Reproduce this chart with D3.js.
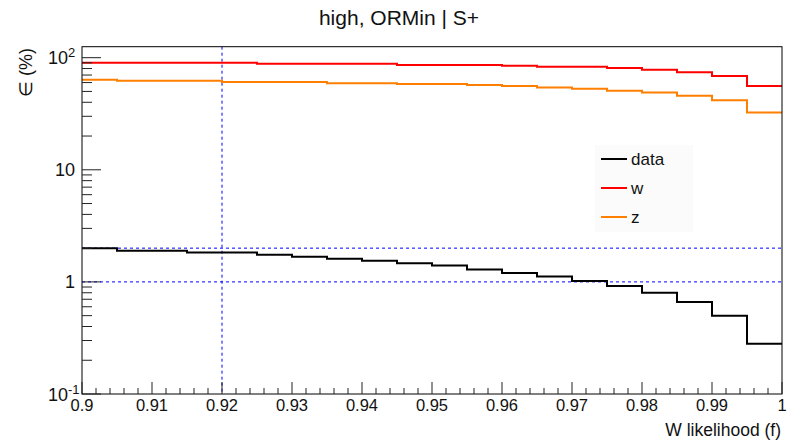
<!DOCTYPE html>
<html>
<head>
<meta charset="utf-8">
<script src="https://cdn.jsdelivr.net/npm/d3@7"></script>
<style>
  html, body { margin: 0; padding: 0; background: #fff; }
  svg { display: block; font-family: "Liberation Sans", Arial, sans-serif; }
</style>
</head>
<body>
<svg id="chart" width="790" height="443"></svg>
<script>
// ---- data ----
const binEdges = [0.900, 0.905, 0.910, 0.915, 0.920, 0.925, 0.930, 0.935, 0.940, 0.945, 0.950,
                  0.955, 0.960, 0.965, 0.970, 0.975, 0.980, 0.985, 0.990, 0.995, 1.000];
const dataVals = [2.00, 1.90, 1.90, 1.83, 1.83, 1.75, 1.68, 1.61, 1.54, 1.47,
                  1.40, 1.29, 1.20, 1.115, 1.02, 0.92, 0.80, 0.663, 0.50, 0.281];
const wVals    = [90.2, 90.2, 90.2, 90.2, 90.2, 88.2, 88.2, 88.2, 88.2, 86.1,
                  86.1, 86.1, 84.8, 83.1, 83.1, 80.9, 78.2, 74.1, 68.7, 55.9];
const zVals    = [63.6, 62.4, 62.4, 62.4, 60.7, 60.7, 60.7, 59.1, 59.1, 58.3,
                  58.3, 57.1, 56.0, 54.3, 52.9, 50.8, 48.8, 45.8, 41.7, 32.4];
const seriesNames  = ["data", "w", "z"];
const seriesColors = ["#000000", "#ff0000", "#ff7f00"];
const xTickVals = [0.90, 0.91, 0.92, 0.93, 0.94, 0.95, 0.96, 0.97, 0.98, 0.99, 1.00];
const xTickLabels = ["0.9", "0.91", "0.92", "0.93", "0.94", "0.95", "0.96", "0.97", "0.98", "0.99", "1"];
const yTickVals = [0.1, 1, 10, 100];
const yTickLabels = [["10", "-1"], ["1", ""], ["10", ""], ["10", "2"]];
const refX = [0.92];
const refY = [2, 1];
const titleText = "high, ORMin | S+";
const xTitle = "W likelihood (f)";
const yTitle = "\u2208 (%)";

// ---- layout ----
const L = 82, R = 782, T = 46.7, B = 394;
const svg = d3.select("#chart");
const x = d3.scaleLinear().domain([0.9, 1.0]).range([L, R]);
const y = d3.scaleLog().domain([0.1, 125.3]).range([B, T]);

// reference dashed lines
svg.selectAll("line.refx").data(refX).enter().append("line")
  .attr("x1", d => x(d)).attr("x2", d => x(d)).attr("y1", T).attr("y2", B)
  .attr("stroke", "#0000ff").attr("stroke-width", 1).attr("stroke-dasharray", "3,3");
svg.selectAll("line.refy").data(refY).enter().append("line")
  .attr("x1", L).attr("x2", R).attr("y1", d => y(d)).attr("y2", d => y(d))
  .attr("stroke", "#0000ff").attr("stroke-width", 1).attr("stroke-dasharray", "3,3");

// step histograms
const allSeries = [dataVals, wVals, zVals];
const lineGen = d3.line().x(d => x(d[0])).y(d => y(d[1])).curve(d3.curveStepAfter);
[2, 1, 0].forEach(i => {
  const vals = allSeries[i];
  const pts = vals.map((v, k) => [binEdges[k], v]);
  pts.push([binEdges[binEdges.length - 1], vals[vals.length - 1]]);
  svg.append("path").attr("d", lineGen(pts))
    .attr("fill", "none").attr("stroke", seriesColors[i]).attr("stroke-width", 2);
});

// frame
svg.append("rect").attr("x", L).attr("y", T).attr("width", R - L).attr("height", B - T)
  .attr("fill", "none").attr("stroke", "#000").attr("stroke-width", 1);

// x ticks (major every 0.01, minor every 0.002)
const xMinor = d3.range(0, 51).map(i => 0.9 + i * 0.002);
svg.selectAll("line.xt").data(xMinor).enter().append("line")
  .attr("x1", d => x(d)).attr("x2", d => x(d))
  .attr("y1", B).attr("y2", (d, i) => B - (i % 5 === 0 ? 12 : 6))
  .attr("stroke", "#222").attr("stroke-width", 1);
svg.selectAll("text.xl").data(xTickVals).enter().append("text")
  .attr("x", d => x(d)).attr("y", 411).attr("text-anchor", "middle")
  .attr("font-size", 16.5).attr("fill", "#111").text((d, i) => xTickLabels[i]);

// y ticks
const yMinor = [];
[0.1, 1, 10].forEach(dec => { for (let k = 1; k <= 9; k++) yMinor.push([dec * k, k === 1]); });
yMinor.push([100, true]);
svg.selectAll("line.yt").data(yMinor.filter(d => d[0] <= 125.3)).enter().append("line")
  .attr("x1", L).attr("x2", d => L + (d[1] ? 19 : 10))
  .attr("y1", d => y(d[0])).attr("y2", d => y(d[0]))
  .attr("stroke", "#222").attr("stroke-width", 1);
const yl = svg.selectAll("text.yl").data(yTickVals).enter().append("text")
  .attr("x", (d, i) => yTickLabels[i][1] ? 68 : 75)
  .attr("y", d => y(d) + 6.5).attr("text-anchor", "end")
  .attr("font-size", 18).attr("fill", "#111");
yl.append("tspan").text((d, i) => yTickLabels[i][0]);
yl.filter((d, i) => yTickLabels[i][1] !== "").append("tspan")
  .attr("font-size", 13).attr("dy", -7)
  .text((d) => yTickLabels[yTickVals.indexOf(d)][1]);
yl.each(function(d, i) {
  if (yTickLabels[i][1]) {
    const t = d3.select(this);
    t.attr("text-anchor", "start");
    const w = t.select("tspan").node().getComputedTextLength();
    t.attr("x", 68 - w);
  }
});

// titles
svg.append("text").attr("x", 399).attr("y", 25).attr("text-anchor", "middle")
  .attr("font-size", 21).attr("fill", "#111").text(titleText);
svg.append("text").attr("x", 781).attr("y", 436).attr("text-anchor", "end")
  .attr("font-size", 17.5).attr("fill", "#111").text(xTitle);
svg.append("text").attr("transform", "translate(32,48) rotate(-90)")
  .attr("text-anchor", "end").attr("font-size", 18).attr("fill", "#111").text(yTitle);

// legend
const lg = svg.append("g");
lg.append("rect").attr("x", 595).attr("y", 145).attr("width", 98).attr("height", 87)
  .attr("fill", "#fbfbfb");
const legY = [159, 188, 217];
seriesNames.forEach((n, i) => {
  lg.append("line").attr("x1", 601).attr("x2", 627).attr("y1", legY[i]).attr("y2", legY[i])
    .attr("stroke", seriesColors[i]).attr("stroke-width", 2);
  lg.append("text").attr("x", 631).attr("y", legY[i] + 6).attr("font-size", 17)
    .attr("fill", "#111").text(n);
});
</script>
</body>
</html>
